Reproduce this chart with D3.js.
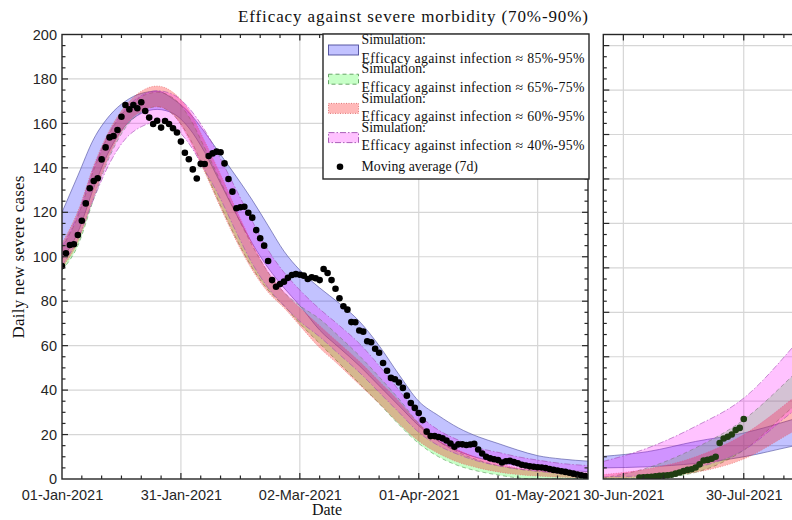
<!DOCTYPE html>
<html><head><meta charset="utf-8">
<script src="https://cdn.jsdelivr.net/npm/d3@7"></script>
<style>body{margin:0;background:#fff} svg{display:block}</style>
</head><body>
<svg id="c" width="792" height="520"></svg>
<script>
// ---------------- data ----------------
const titleText = "Efficacy against severe morbidity (70%-90%)";
const yLabelText = "Daily new severe cases";
const xLabelText = "Date";
const startDate = "2021-01-01";

// 7-day moving average, one value per day from 01-Jan-2021
const leftDots = [95.8,101.6,105.3,105.6,109.8,116.2,124,130.8,134.1,135.3,
143.8,149.2,153.7,154.3,157,163,168.3,166.3,168.3,166.8,
169.5,165.6,162.6,159.7,161.2,158.1,161.1,159.7,157.8,155.9,
151.8,146.8,143.9,139.3,135.2,141.8,141.7,145.3,146.5,147.3,
147,142,135,129.3,121.8,122.3,122.5,119.8,117.6,112,
108.3,105,98.1,89.5,86.5,87.7,88.8,90.5,91.8,92.2,
91.9,91.5,90,90.8,90.3,89.5,94.5,92.7,89.5,85.6,
81.3,77.7,76.2,70.6,70.5,66.8,66.3,62,61.5,58.6,
56.8,52.2,48.7,45.5,44.9,43.4,41,37.5,34.2,32,
29.7,26.5,21.3,19.3,19.3,18.9,18.3,17.3,16,14.5,
15.6,15.6,15.3,15.5,15.8,13.3,11.5,10,9.3,8.9,
8.5,7.4,8,8.2,7.6,7.1,6.4,6.1,5.7,5.5,
5.3,5.2,4.9,4.5,4.1,3.8,3.5,3.2,2.8,2.4,
2,1.7,1.3];
// second period, one value per day from 04-Jul-2021
const rightDotsStart = 184; // day index from 01-Jan-2021
const rightDots = [0.7,0.8,0.9,1.0,1.2,1.4,1.5,1.7,1.9,2.4,2.9,3.6,4.1,4.4,5.2,6.6,8.3,8.6,9.1,10,16.2,18.2,19,20,22,23,27];

// simulation bands, first period (day index from 01-Jan-2021)
const bandDays = [0,4,8,12,16,20,24,28,32,36,40,44,48,52,56,60,65,70,75,80,85,90,95,100,105,110,115,120,126,133];
const blueHi  = [120,136.5,153,163.5,170,173.5,174.5,171,165,156,146,136,125.5,114,102.5,94,86,79,71,60,47,35,28.5,23,19,16,13,10.5,9,8];
const blueLo  = [99,111,131,148,159,164.5,166.3,164.5,158,147,133,119,106,95,86,78,67,59,51,42,33,24,17,12.5,9.5,7.5,6,5,4,3.3];
const greenHi = [104,118,139,155.5,166,172,174,171.5,163,149,134,119,105,93,84,78,72,64,55.5,46,36,25,17,12,8.5,6,4.5,3.5,2.8,2.2];
const greenLo = [94,105,126,145,158,165,167.5,164,154,139,123,108,95,85,78,70,61,52,43,34,24.5,16,10,6,3.5,1.8,0.5,0,0,0];
const redHi   = [106,120.5,141,157,168,174.5,176.8,174,166,152,137,121,106,93,84,77,69,61,53,44,35,25,17.5,13,9.5,7,5,4,3,2.5];
const redLo   = [95,106.5,127,146,159,165.5,167.5,164,153,138,122,107,94,84,77,69,59,51,42.5,34,25,17,11.5,7.5,5,3.2,2,1.3,0.8,0.5];
const magHi   = [104.5,119,140,156,166.5,172.5,174.7,173,167,157,144,130,116,103,93,85,76.5,69,61,51,40,29,22,17.5,14,12,10,8.5,7,6];
const magLo   = [96,108,126,142,153,158.5,160.5,158.5,151,139,126,111,97,86,78,71,64,56,48,39,30,21,15,11,8,6,4.5,3.5,2.5,1.8];

// simulation bands, second period
const rBandDays = [175,186,198,210,222,228];
const rBlueHi  = [10.2,12.3,16.9,20.7,26.7,30];
const rBlueLo  = [5,5.5,7,10,14.7,17];
const rGreenHi = [0.5,5,14,26.7,46.2,57];
const rGreenLo = [0,0.2,3,13,32,41];
const rRedHi   = [2,4.5,10,20,36,45];
const rRedLo   = [0.3,0.8,3,9,21,27];
const rMagHi   = [7.9,13.9,23.7,36.4,58.9,72];
const rMagLo   = [1,1.5,5,13,30,38];

const legendHead = "Simulation:";
const legendLabels = ["Efficacy against infection \u2248 85%-95%",
                      "Efficacy against infection \u2248 65%-75%",
                      "Efficacy against infection \u2248 60%-95%",
                      "Efficacy against infection \u2248 40%-95%"];
const dotsLabel = "Moving average (7d)";

const yTicks = [0,20,40,60,80,100,120,140,160,180,200];
const rightGridValues = [15,35,55,75,95,115,135,155,175,195];
const leftTickDates = ["2021-01-01","2021-01-31","2021-03-02","2021-04-01","2021-05-01"];
const rightTickDates = ["2021-06-30","2021-07-30"];

// ---------------- drawing ----------------
const DAY = 864e5;
const t0 = Date.parse(startDate + "T00:00:00Z");
const dayDate = n => new Date(t0 + n * DAY);
const parse = s => new Date(Date.parse(s + "T00:00:00Z"));
const fmt = d3.utcFormat("%d-%b-%Y");

const svg = d3.select("#c");
const SERIF = "'Liberation Serif','Times New Roman',serif";
const SANS = "'Liberation Sans',Arial,sans-serif";
const AX = "#262626";
const Y0 = 34.5, Y1 = 479;
const y = d3.scaleLinear().domain([0, 200]).range([Y1, Y0]);

const styles = [
  {fill: "#0000ff", stroke: "#4a4a9a", dash: null, a: 0.24},
  {fill: "#00ff00", stroke: "#5a9a5a", dash: "4,3", a: 0.22},
  {fill: "#ff0000", stroke: "#e06a6a", dash: "1,1.5", a: 0.28},
  {fill: "#ff00ff", stroke: "#a050b0", dash: "6,2,1.5,2", a: 0.24}
];

const panels = [
  { id: "L", x0: 62, x1: 588,
    x: d3.scaleUtc().domain([dayDate(0), dayDate(132.7)]).range([62, 588]),
    minor: d3.range(0, 133, 5), majors: leftTickDates.map(parse),
    gridY: yTicks, minorY: d3.range(0, 201, 5),
    days: bandDays, bands: [[blueLo, blueHi], [greenLo, greenHi], [redLo, redHi], [magLo, magHi]],
    dotStart: 0, dots: leftDots, dotColor: "#000", yLabels: true },
  { id: "R", x0: 603.3, x1: 804,
    x: d3.scaleUtc().domain([dayDate(175), dayDate(225)]).range([603.3, 803.95]),
    minor: d3.range(175, 226, 5), majors: rightTickDates.map(parse),
    gridY: rightGridValues, minorY: d3.range(0, 201, 5),
    days: rBandDays, bands: [[rBlueLo, rBlueHi], [rGreenLo, rGreenHi], [rRedLo, rRedHi], [rMagLo, rMagHi]],
    dotStart: rightDotsStart, dots: rightDots, dotColor: "#1f3d12", yLabels: false }
];

const defs = svg.append("defs");

panels.forEach(p => {
  const g = svg.append("g");
  defs.append("clipPath").attr("id", "clip" + p.id)
    .append("rect").attr("x", p.x0).attr("y", Y0).attr("width", p.x1 - p.x0).attr("height", Y1 - Y0);

  // grid
  const grid = g.append("g").attr("stroke", "#d6d6d6").attr("stroke-width", 1.2);
  grid.selectAll("line.v").data(p.majors.filter(d => p.x(d) > p.x0 + 1 && p.x(d) < p.x1 - 1)).join("line")
    .attr("x1", d => p.x(d)).attr("x2", d => p.x(d)).attr("y1", Y0).attr("y2", Y1);
  grid.selectAll("line.h").data(p.gridY.filter(v => y(v) > Y0 + 1 && y(v) < Y1 - 1)).join("line")
    .attr("x1", p.x0).attr("x2", p.x1).attr("y1", d => y(d)).attr("y2", d => y(d));

  // bands
  const bg = g.append("g").attr("clip-path", `url(#clip${p.id})`);
  p.bands.forEach((b, i) => {
    const pts = p.days.map((d, k) => ({d, lo: b[0][k], hi: b[1][k]}));
    const xa = d => p.x(dayDate(d.d));
    const area = d3.area().x(xa).y0(d => y(d.lo)).y1(d => y(d.hi)).curve(d3.curveMonotoneX);
    bg.append("path").attr("d", area(pts)).attr("fill", styles[i].fill).attr("fill-opacity", styles[i].a);
    ["lo", "hi"].forEach(k => {
      const ln = d3.line().x(xa).y(d => y(d[k])).curve(d3.curveMonotoneX);
      bg.append("path").attr("d", ln(pts)).attr("fill", "none")
        .attr("stroke", styles[i].stroke).attr("stroke-width", 0.8).attr("stroke-opacity", 0.75)
        .attr("stroke-dasharray", styles[i].dash);
    });
  });

  // dots
  bg.append("g").selectAll("circle").data(p.dots).join("circle")
    .attr("cx", (v, i) => p.x(dayDate(p.dotStart + i))).attr("cy", v => y(v))
    .attr("r", 3.3).attr("fill", p.dotColor);

  // axes box & ticks
  const ax = g.append("g").attr("stroke", AX);
  ax.append("rect").attr("x", p.x0).attr("y", Y0).attr("width", p.x1 - p.x0).attr("height", Y1 - Y0)
    .attr("fill", "none").attr("stroke-width", 1.4);
  const majorSet = new Set(p.majors.map(d => +d));
  const xt = p.minor.map(d => dayDate(d)).filter(d => p.x(d) > p.x0 + 1 && p.x(d) < p.x1 - 1);
  ax.selectAll("line.xt").data(xt).join("line")
    .attr("x1", d => p.x(d)).attr("x2", d => p.x(d))
    .attr("y1", Y1).attr("y2", d => Y1 - (majorSet.has(+d) ? 6 : 3.5)).attr("stroke-width", 1.2);
  ax.selectAll("line.xt2").data(xt).join("line")
    .attr("x1", d => p.x(d)).attr("x2", d => p.x(d))
    .attr("y1", Y0).attr("y2", d => Y0 + (majorSet.has(+d) ? 6 : 3.5)).attr("stroke-width", 1.2);
  const gridSet = new Set(p.gridY);
  const yt = p.minorY.filter(v => y(v) > Y0 + 1 && y(v) < Y1 - 1);
  ax.selectAll("line.yt").data(yt).join("line")
    .attr("x1", p.x0).attr("x2", v => p.x0 + (gridSet.has(v) ? 6 : 3.5))
    .attr("y1", v => y(v)).attr("y2", v => y(v)).attr("stroke-width", 1.2);
  ax.selectAll("line.yt2").data(yt).join("line")
    .attr("x1", p.x1).attr("x2", v => p.x1 - (gridSet.has(v) ? 6 : 3.5))
    .attr("y1", v => y(v)).attr("y2", v => y(v)).attr("stroke-width", 1.2);

  // tick labels
  const xa = g.append("g").attr("transform", `translate(0,${Y1})`)
    .call(d3.axisBottom(p.x).tickValues(p.majors).tickFormat(fmt).tickSize(0).tickPadding(11));
  xa.select(".domain").remove();
  xa.selectAll("text").attr("font-family", SANS).attr("font-size", 14.5).attr("fill", AX);
  if (p.yLabels) {
    const ya = g.append("g").attr("transform", `translate(${p.x0},0)`)
      .call(d3.axisLeft(y).tickValues(yTicks).tickSize(0).tickPadding(5));
    ya.select(".domain").remove();
    ya.selectAll("text").attr("font-family", SANS).attr("font-size", 14.5).attr("fill", AX);
  }
});

// title and axis titles
svg.append("text").attr("x", 413).attr("y", 22).attr("text-anchor", "middle")
  .attr("font-family", SERIF).attr("font-size", 17).attr("fill", "#111")
  .attr("textLength", 350).attr("lengthAdjust", "spacing").text(titleText);
svg.append("text").attr("x", 327).attr("y", 515).attr("text-anchor", "middle")
  .attr("font-family", SERIF).attr("font-size", 16).attr("fill", "#111").text(xLabelText);
svg.append("text").attr("transform", "translate(24,257) rotate(-90)").attr("text-anchor", "middle")
  .attr("font-family", SERIF).attr("font-size", 17).attr("fill", "#111")
  .attr("textLength", 163).attr("lengthAdjust", "spacing").text(yLabelText);

// legend
const lg = svg.append("g");
lg.append("rect").attr("x", 323).attr("y", 34).attr("width", 266).attr("height", 145)
  .attr("fill", "#fff").attr("stroke", AX).attr("stroke-width", 1.4);
const rowH = 29.2;
legendLabels.forEach((lab, i) => {
  const cy = 50 + i * rowH;
  lg.append("rect").attr("x", 328.5).attr("y", cy - 5).attr("width", 30).attr("height", 10)
    .attr("fill", styles[i].fill).attr("fill-opacity", styles[i].a)
    .attr("stroke", styles[i].stroke).attr("stroke-width", 0.9).attr("stroke-dasharray", styles[i].dash);
  lg.append("text").attr("x", 361.5).attr("y", cy - 10 + 4.2)
    .attr("font-family", SERIF).attr("font-size", 13.8).attr("fill", "#111").text(legendHead);
  lg.append("text").attr("x", 361.5).attr("y", cy + 8.3 + 4.2)
    .attr("font-family", SERIF).attr("font-size", 13.8).attr("fill", "#111")
    .attr("textLength", 223).attr("lengthAdjust", "spacing").text(lab);
});
lg.append("circle").attr("cx", 340).attr("cy", 166.7).attr("r", 3.3).attr("fill", "#000");
lg.append("text").attr("x", 361.5).attr("y", 166.7 + 4.2)
  .attr("font-family", SERIF).attr("font-size", 13.8).attr("fill", "#111").text(dotsLabel);
</script>
</body></html>
